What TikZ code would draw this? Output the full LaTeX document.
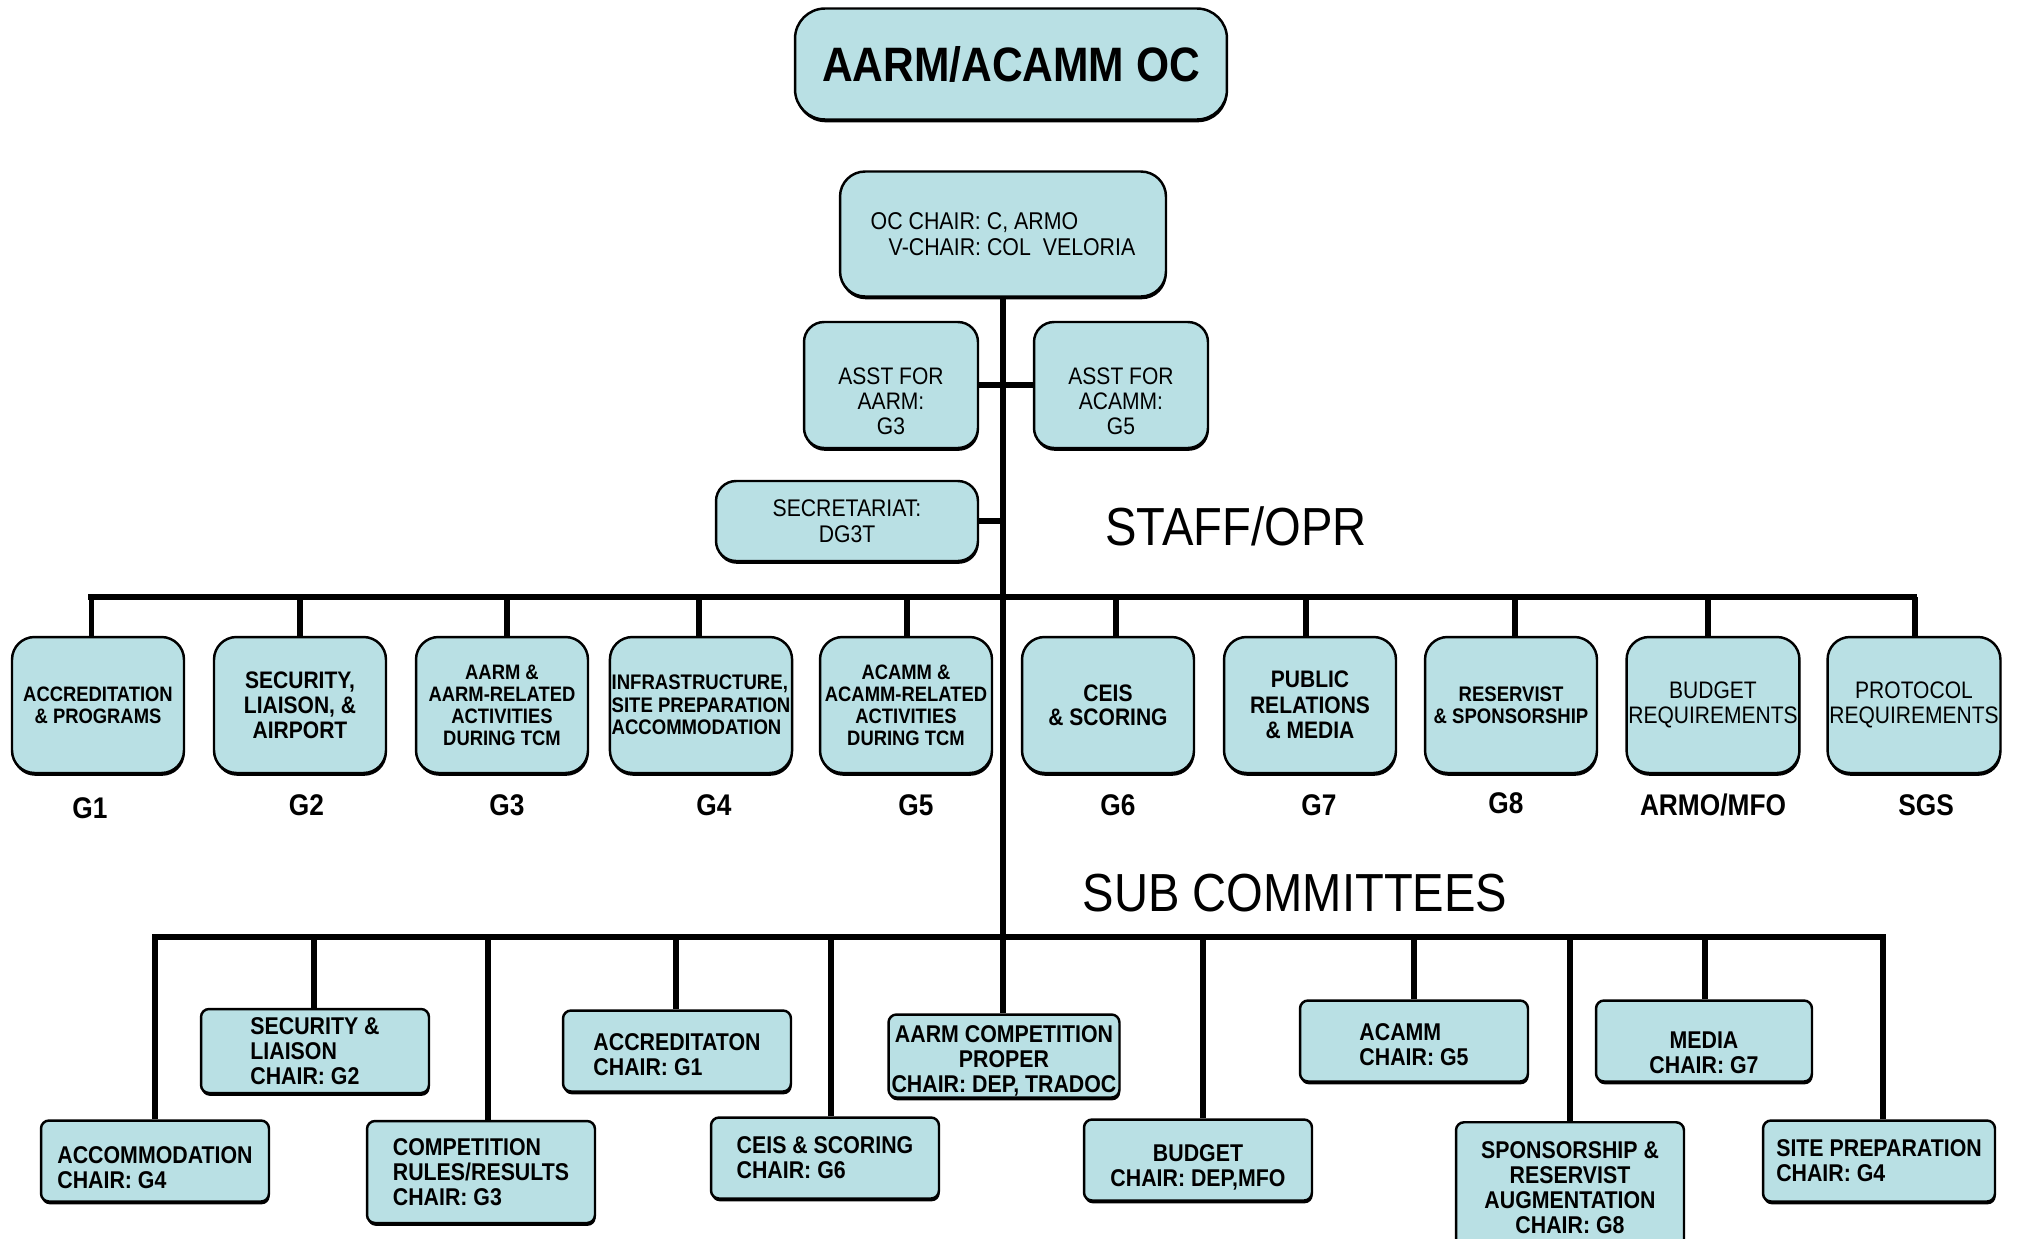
\documentclass[tikz,border=0pt]{standalone}
\usepackage{fontspec}
\setmainfont[FakeStretch=0.88]{Liberation Sans}
\usepackage{tikz}
\usetikzlibrary{positioning, shadows}
\definecolor{boxblue}{RGB}{185,224,228}
\tikzset{link/.style={line width=3pt}}

\begin{document}
\begin{tikzpicture}
    [x=0.02cm, y=-0.02cm,
      box/.style={draw, line width=1.4pt, fill=boxblue, align=center, inner sep=1pt,
        drop shadow={shadow xshift=0.4pt, shadow yshift=-1.6pt, opacity=1, fill=black}},
      staff/.style={box, rounded corners=4.5mm, minimum width=3.44cm, minimum height=2.72cm},
      sub/.style={box, rounded corners=1.6mm, minimum width=4.56cm, minimum height=1.62cm,
        font=\bfseries\fontsize{13.8}{14.2}\selectfont},
      gname/.style={font=\bfseries\fontsize{17}{17}\selectfont, inner sep=0pt,
        text height=12pt, text depth=0pt},
      heading/.style={font=\fontsize{30.5}{30.5}\selectfont}]

    \useasboundingbox (0,0) rectangle (2018,1238);

    \node[box, rounded corners=6mm, minimum width=8.64cm, minimum height=2.22cm,
      font=\bfseries\fontsize{27.5}{27.5}\selectfont] (top) at (1011,64) {AARM/ACAMM OC};
    \node[box, rounded corners=5mm, minimum width=6.52cm, minimum height=2.5cm, align=left,
      font=\fontsize{13.8}{14.8}\selectfont] (chair) at (1003,234)
      {OC CHAIR: C, ARMO\\\hspace*{0.36cm}V-CHAIR: COL\ \ VELORIA};
    \node[box, rounded corners=4mm, minimum width=3.48cm, minimum height=2.52cm, text height=56pt,
      font=\fontsize{13.6}{14.2}\selectfont] (asstA) at (891,385) {ASST FOR\\AARM:\\G3};
    \node[box, rounded corners=4mm, minimum width=3.48cm, minimum height=2.52cm, text height=56pt,
      font=\fontsize{13.6}{14.2}\selectfont] (asstB) at (1121,385) {ASST FOR\\ACAMM:\\G5};
    \node[box, rounded corners=4mm, minimum width=5.24cm, minimum height=1.6cm,
      font=\fontsize{13.7}{14.6}\selectfont] (sec) at (847,521) {SECRETARIAT:\\DG3T};

    \node[heading] (staffopr) at (1236,526) {STAFF/OPR};
    \node[heading] (subcom) at (1295,893) {SUB COMMITTEES};

    % staff / OPR
    \node[staff, font=\bfseries\fontsize{11.9}{12.5}\selectfont] (s1) at (98,705) {ACCREDITATION\\\& PROGRAMS};
    \node[staff, font=\bfseries\fontsize{13.6}{14.2}\selectfont] (s2) at (300,705) {SECURITY,\\LIAISON, \&\\AIRPORT};
    \node[staff, font=\bfseries\fontsize{11.9}{12.5}\selectfont] (s3) at (502,705) {AARM \&\\AARM-RELATED\\ACTIVITIES\\DURING TCM};
    \node[staff, align=left, font=\bfseries\fontsize{12}{12.8}\selectfont] (s4) at (701,705) {INFRASTRUCTURE,\\SITE PREPARATION\\ACCOMMODATION};
    \node[staff, font=\bfseries\fontsize{11.9}{12.5}\selectfont] (s5) at (906,705) {ACAMM \&\\ACAMM-RELATED\\ACTIVITIES\\DURING TCM};
    \node[staff, font=\bfseries\fontsize{13.6}{13.9}\selectfont] (s6) at (1108,705) {CEIS\\\& SCORING};
    \node[staff, font=\bfseries\fontsize{13.6}{14.6}\selectfont] (s7) at (1310,705) {PUBLIC\\RELATIONS\\\& MEDIA};
    \node[staff, font=\bfseries\fontsize{12}{12.5}\selectfont] (s8) at (1511,705) {RESERVIST\\\& SPONSORSHIP};
    \node[staff, font=\fontsize{13.6}{13.9}\selectfont] (s9) at (1713,705) {BUDGET\\REQUIREMENTS};
    \node[staff, font=\fontsize{13.6}{13.9}\selectfont] (s10) at (1914,705) {PROTOCOL\\REQUIREMENTS};

    \node[gname, below=0.45cm of s1, xshift=-0.16cm] (l1) {G1};
    \node[gname, below=0.4cm of s2, xshift=0.13cm] (l2) {G2};
    \node[gname, below=0.4cm of s3, xshift=0.1cm] (l3) {G3};
    \node[gname, below=0.4cm of s4, xshift=0.26cm] (l4) {G4};
    \node[gname, below=0.4cm of s5, xshift=0.2cm] (l5) {G5};
    \node[gname, below=0.4cm of s6, xshift=0.2cm] (l6) {G6};
    \node[gname, below=0.4cm of s7, xshift=0.18cm] (l7) {G7};
    \node[gname, below=0.36cm of s8, xshift=-0.1cm] (l8) {G8};
    \node[gname, below=0.4cm of s9] (l9) {ARMO/MFO};
    \node[gname, below=0.4cm of s10, xshift=0.24cm] (l10) {SGS};

    % sub committees
    \node[sub, align=left, text height=31.9pt] (accom) at (155,1161) {ACCOMMODATION\\CHAIR: G4};
    \node[sub, align=left, minimum height=1.68cm] (secur) at (315,1051) {SECURITY \&\\LIAISON\\CHAIR: G2};
    \node[sub, align=left, minimum height=2.04cm] (comp) at (481,1172) {COMPETITION\\RULES/RESULTS\\CHAIR: G3};
    \node[sub, align=left, text height=27.5pt] (accred) at (677,1051) {ACCREDITATON\\CHAIR: G1};
    \node[sub, align=left] (ceis) at (825,1158) {CEIS \& SCORING\\CHAIR: G6};
    \node[sub, minimum width=4.62cm, text height=43.1pt] (aarmcomp) at (1004,1056) {AARM COMPETITION\\PROPER\\CHAIR: DEP, TRADOC};
    \node[sub, text height=31.9pt] (budget) at (1198,1160) {BUDGET\\CHAIR: DEP,MFO};
    \node[sub, align=left, text height=27.5pt] (acamm) at (1414,1041) {ACAMM\\CHAIR: G5};
    \node[sub, anchor=north, minimum height=2.6cm] (spons) at (1570,1121) {SPONSORSHIP \&\\RESERVIST\\AUGMENTATION\\CHAIR: G8};
    \node[sub, minimum width=4.32cm, text height=36.7pt] (media) at (1704,1041) {MEDIA\\CHAIR: G7};
    \node[sub, align=left, minimum width=4.64cm] (sitep) at (1879,1161) {SITE PREPARATION\\CHAIR: G4};

    \coordinate (staffbar) at (0,597);
    \coordinate (subbar) at (0,937);

    \draw[link] (chair.south) -- (chair.south |- aarmcomp.north);
    \draw[link] (asstA) -- (asstB);
    \draw[link] (sec) -- (sec -| chair.south);
    \draw[link, line width=3.6pt, line cap=rect] ([xshift=-0.13cm]s1.north |- staffbar) -- (s10.north |- staffbar);
    \foreach \i/\dx in {1/-6.6, 2/0, 3/5, 4/-2, 5/1, 6/8, 7/-4, 8/4, 9/-5, 10/1}
      \draw[link] ([xshift=\dx*0.02cm]s\i.north) -- ([xshift=\dx*0.02cm]s\i.north |- staffbar);
    \draw[link, line width=3.6pt, line cap=rect] (accom.north |- subbar) -- ([xshift=0.08cm]sitep.north |- subbar);
    \foreach \n/\dx in {accom/0, secur/-1, comp/7, accred/-1, ceis/6, budget/5, acamm/0, spons/0, media/1, sitep/4}
      \draw[link] ([xshift=\dx*0.02cm]\n.north) -- ([xshift=\dx*0.02cm]\n.north |- subbar);
  \end{tikzpicture}
\end{document}
